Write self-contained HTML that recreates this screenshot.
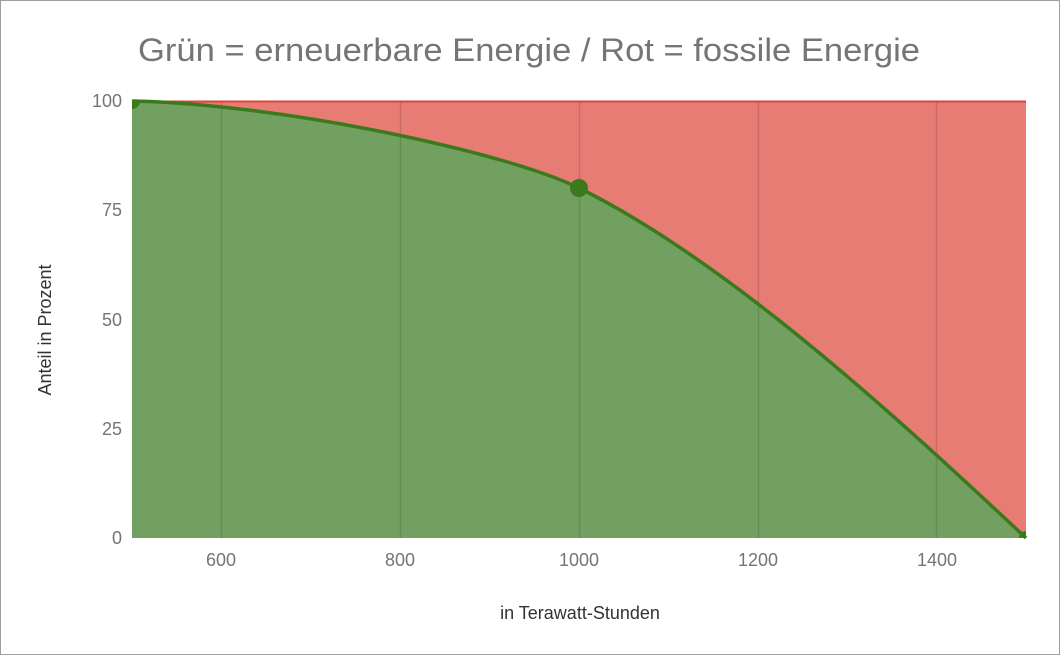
<!DOCTYPE html>
<html><head><meta charset="utf-8"><style>
body{margin:0;background:#fff;}
svg{display:block;font-family:"Liberation Sans",sans-serif;}
</style></head><body>
<svg width="1061" height="655" viewBox="0 0 1061 655">
<rect x="0.5" y="0.5" width="1059" height="654" fill="#fff" stroke="#9e9e9e"/>
<text x="138" y="61" font-size="32" fill="#757575" textLength="782" lengthAdjust="spacingAndGlyphs">Grün = erneuerbare Energie / Rot = fossile Energie</text>
<rect x="132" y="101" width="894" height="437" fill="#e67c73"/>
<path d="M132,101 C281,104 506,152 579,188 C729,262 900,420 1026,538 L132,538 Z" fill="#72a060"/>
<g stroke="#000" stroke-opacity="0.12" stroke-width="1.5">
<line x1="221.5" y1="101" x2="221.5" y2="538"/>
<line x1="400.5" y1="101" x2="400.5" y2="538"/>
<line x1="579.5" y1="101" x2="579.5" y2="538"/>
<line x1="758.5" y1="101" x2="758.5" y2="538"/>
<line x1="936.5" y1="101" x2="936.5" y2="538"/>
</g>
<line x1="132" y1="101.5" x2="1026" y2="101.5" stroke="#db4437" stroke-width="2"/>
<path d="M132,101 C281,104 506,152 579,188 C729,262 900,420 1026,538" fill="none" stroke="#3a7a1c" stroke-width="3.5"/>
<circle cx="579" cy="188" r="9" fill="#3a7a1c"/>
<path d="M132,101 h8 a8,8 0 0 1 -8,8 Z" fill="#3a7a1c"/>
<path d="M1026,538 h-7 a7,7 0 0 1 7,-7 Z" fill="#3a7a1c"/>
<g font-size="18" fill="#757575" text-anchor="end">
<text x="122" y="107">100</text>
<text x="122" y="216">75</text>
<text x="122" y="326">50</text>
<text x="122" y="435">25</text>
<text x="122" y="544">0</text>
</g>
<g font-size="18" fill="#757575" text-anchor="middle">
<text x="221" y="566">600</text>
<text x="400" y="566">800</text>
<text x="579" y="566">1000</text>
<text x="758" y="566">1200</text>
<text x="937" y="566">1400</text>
</g>
<text x="580" y="619" font-size="18" fill="#333" text-anchor="middle">in Terawatt-Stunden</text>
<text transform="translate(51,330) rotate(-90)" font-size="18" fill="#333" text-anchor="middle">Anteil in Prozent</text>
</svg>
</body></html>
